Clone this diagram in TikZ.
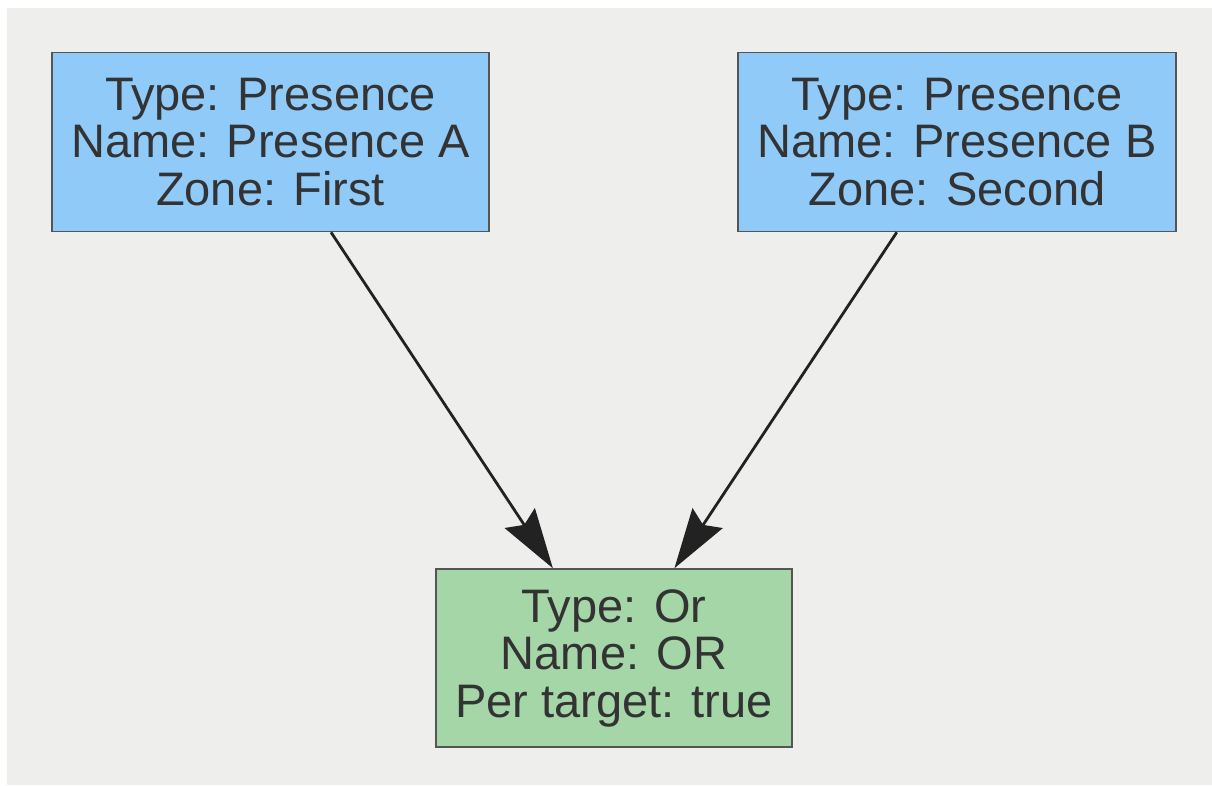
\documentclass[tikz,border=0pt]{standalone}
\usepackage{fontspec}
\setmainfont{Liberation Sans}
\usetikzlibrary{arrows.meta,calc}
\definecolor{bgc}{HTML}{EEEEEC}
\definecolor{bluec}{HTML}{90CAF9}
\definecolor{greenc}{HTML}{A5D6A7}
\definecolor{edgec}{HTML}{555555}
\definecolor{txtc}{HTML}{333333}
\definecolor{arrc}{HTML}{222222}
\begin{document}
\begin{tikzpicture}[x=1pt,y=-1pt,
  box/.style={draw=edgec, line width=1.5pt, text=txtc, align=center, inner sep=0pt,
    font=\fontsize{47}{47.5}\selectfont},
  conn/.style={draw=arrc, line width=2.8pt, -{Stealth[length=60pt,width=36pt,inset=8pt]}}]
\useasboundingbox (0,0) rectangle (1212,785);
\fill[white] (0,0) rectangle (1212,785);
\fill[bgc] (7,8) rectangle (1212,785);
\node[box, fill=bluec, minimum width=437pt, minimum height=179pt] (a) at (270.5,142)
  {Type: Presence\\Name: Presence A\\Zone: First};
\node[box, fill=bluec, minimum width=438pt, minimum height=179pt] (b) at (957,142)
  {Type: Presence\\Name: Presence B\\Zone: Second};
\node[box, fill=greenc, minimum width=356pt, minimum height=178pt] (c) at (614,658)
  {Type: Or\\Name: OR\\Per target: true};
\coordinate (as) at ($(a.south west)!0.638!(a.south east)$);
\coordinate (bs) at ($(b.south west)!0.363!(b.south east)$);
\coordinate (cl) at ($(c.north west)!0.329!(c.north east)$);
\coordinate (cr) at ($(c.north west)!0.669!(c.north east)$);
\draw[conn] (as) -- (cl);
\draw[conn] (bs) -- (cr);
\end{tikzpicture}
\end{document}
